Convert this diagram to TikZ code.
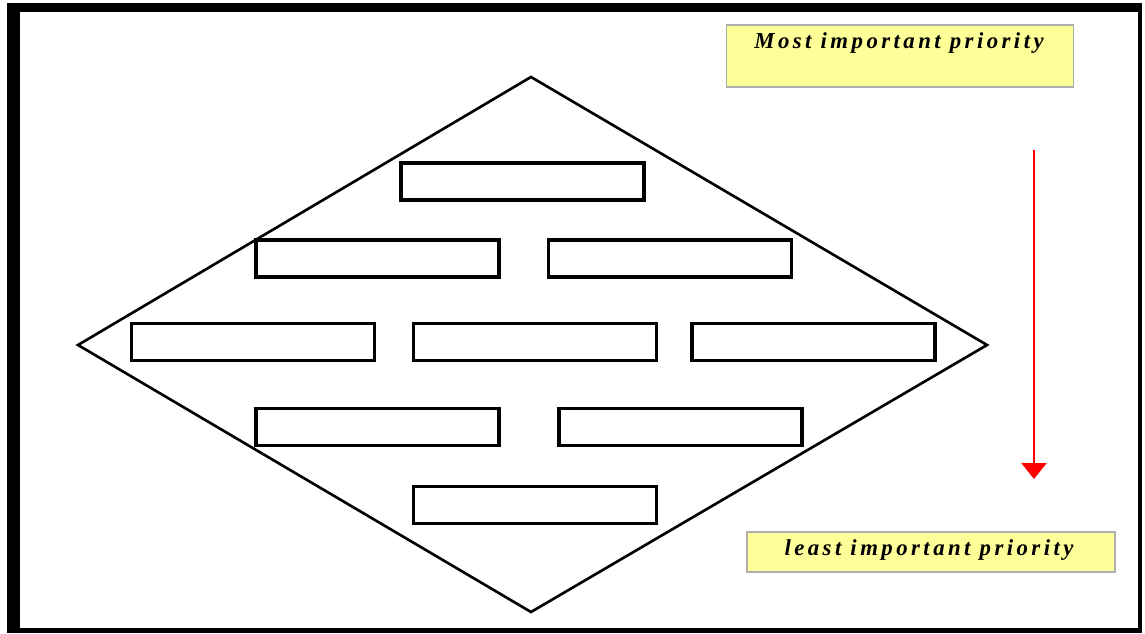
\documentclass[tikz,border=0pt]{standalone}
\usepackage{fontspec}
\setmainfont{Liberation Serif}
\usetikzlibrary{arrows.meta}
\newfontfamily\notefont[LetterSpace=15]{Liberation Serif}
\definecolor{noteyellow}{RGB}{255,255,153}
\definecolor{notegray}{RGB}{175,175,175}
\tikzset{
  slot/.style={draw, line width=2pt, minimum width=4.86cm, minimum height=0.74cm, inner sep=0pt},
  note/.style={draw=notegray, line width=0.8pt, fill=noteyellow, inner sep=0pt},
  notetext/.style={font=\notefont\bfseries\itshape\fontsize{13}{15}\selectfont, inner sep=0pt}
}
\begin{document}
\begin{tikzpicture}[x=0.02cm, y=-0.02cm]
  \useasboundingbox (0,0) rectangle (1145,634);
  \fill[black] (7,3) rectangle (1142,633);
  \fill[white] (20,12) rectangle (1138,628);
  \coordinate (T) at (531,77);
  \coordinate (L) at (78,345);
  \coordinate (R) at (987,345);
  \coordinate (B) at (531,612);
  \draw[line width=1.5pt, line join=miter] (T)--(R)--(B)--(L)--cycle;
  \node[slot] (r1) at (522.5,181.5) {};
  \node[slot] (r2a) at (377.5,258.5) {};
  \node[slot] (r2b) at (670,258.5) {};
  \node[slot] (r3a) at (253,342) {};
  \node[slot] (r3b) at (535,342) {};
  \node[slot] (r3c) at (813.5,342) {};
  \node[slot] (r4a) at (377.5,427) {};
  \node[slot] (r4b) at (680.5,427) {};
  \node[slot] (r5) at (535,505) {};
  \node[note, minimum width=6.94cm, minimum height=1.24cm] (mostbox) at (900,56) {};
  \node[notetext] (most) at (899,43) {Most important priority};
  \node[note, minimum width=7.36cm, minimum height=0.8cm] (leastbox) at (931,552) {};
  \node[notetext] (least) at (929,550) {least important priority};
  \coordinate (arrtop) at (1034,150);
  \coordinate (arrbot) at (1034,479);
  \draw[red, line width=1.4pt, -{Triangle[width=0.5cm, length=0.32cm]}] (arrtop)--(arrbot);
\end{tikzpicture}
\end{document}
